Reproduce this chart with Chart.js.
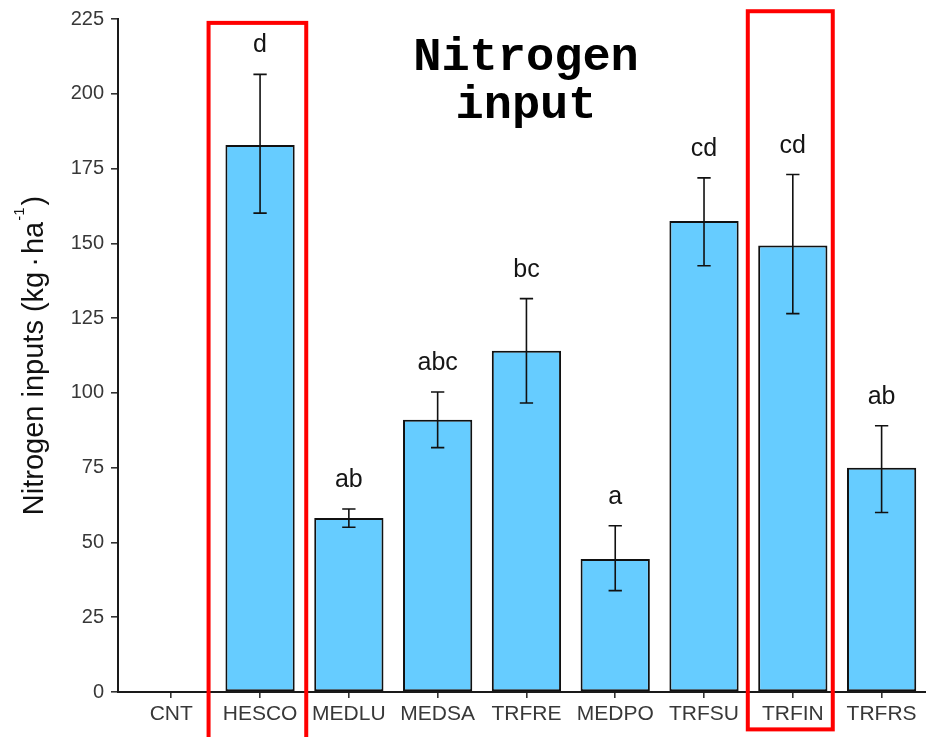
<!DOCTYPE html>
<html>
<head>
<meta charset="utf-8">
<script src="https://cdn.jsdelivr.net/npm/chart.js@4.4.1/dist/chart.umd.min.js"></script>
<style>
    html, body { margin: 0; padding: 0; background: #ffffff; }
    canvas { display: block; }
</style>
</head>
<body>
<canvas id="chartNitrogen" width="926" height="737"></canvas>
<script>
// values (kg N / ha)
const treatments = ['CNT', 'HESCO', 'MEDLU', 'MEDSA', 'TRFRE', 'MEDPO', 'TRFSU', 'TRFIN', 'TRFRS'];
const nitrogenMean = [0, 182.9, 58.2, 91.0, 114.1, 44.5, 157.5, 149.3, 75.0];
const errLower = [null, 160.1, 55.1, 81.7, 96.6, 33.9, 142.5, 126.5, 60.0];
const errUpper = [null, 206.5, 61.2, 100.3, 131.5, 55.6, 171.9, 173.0, 89.0];
const groupLetters = ['', 'd', 'ab', 'abc', 'bc', 'a', 'cd', 'cd', 'ab'];
const yTicks = [0, 25, 50, 75, 100, 125, 150, 175, 200, 225];
const highlighted = ['HESCO', 'TRFIN'];

const textColor = '#383838';

// error bars + significance letters
const errorBarPlugin = {
    id: 'errorBars',
    afterDatasetsDraw(chart) {
        const { ctx, scales: { x, y } } = chart;
        const capHalf = 0.075;
        ctx.save();
        ctx.strokeStyle = '#111111';
        ctx.lineWidth = 1.6;
        treatments.forEach((t, i) => {
            if (errUpper[i] == null) return;
            const cx = x.getPixelForValue(i);
            const c0 = x.getPixelForValue(i - capHalf);
            const c1 = x.getPixelForValue(i + capHalf);
            const yHi = y.getPixelForValue(errUpper[i]);
            const yLo = y.getPixelForValue(errLower[i]);
            ctx.beginPath();
            ctx.moveTo(cx, yHi); ctx.lineTo(cx, yLo);
            ctx.moveTo(c0, yHi); ctx.lineTo(c1, yHi);
            ctx.moveTo(c0, yLo); ctx.lineTo(c1, yLo);
            ctx.stroke();
        });
        ctx.fillStyle = '#151515';
        ctx.font = '25px "Liberation Sans", Arial, sans-serif';
        ctx.textAlign = 'center';
        ctx.textBaseline = 'alphabetic';
        treatments.forEach((t, i) => {
            if (!groupLetters[i]) return;
            ctx.fillText(groupLetters[i], x.getPixelForValue(i), y.getPixelForValue(errUpper[i]) - 22);
        });
        ctx.restore();
    }
};

// y title, plot title and the red boxes
const decorPlugin = {
    id: 'decor',
    afterDraw(chart) {
        const { ctx, chartArea, scales: { x, y } } = chart;
        ctx.save();

        // y axis title with superscript
        const midY = (chartArea.top + chartArea.bottom) / 2;
        const big = '29px "Liberation Sans", Arial, sans-serif';
        const small = '15px "Liberation Sans", Arial, sans-serif';
        const parts = [
            { s: 'Nitrogen inputs (kg', f: big, gap: 5 },
            { s: '\u00B7', f: big, gap: 3 },
            { s: 'ha', f: big, gap: 1 },
            { s: '-1', f: small, gap: 2, up: 19 },
            { s: ')', f: big, gap: 0 }
        ];
        let total = 0;
        parts.forEach(p => { ctx.font = p.f; p.w = ctx.measureText(p.s).width; total += p.w + p.gap; });
        ctx.translate(43, midY);
        ctx.rotate(-Math.PI / 2);
        ctx.fillStyle = '#111111';
        ctx.textBaseline = 'alphabetic';
        ctx.textAlign = 'left';
        let pos = -total / 2;
        parts.forEach(p => {
            ctx.font = p.f;
            ctx.fillText(p.s, pos, -(p.up || 0));
            pos += p.w + p.gap;
        });
        ctx.setTransform(1, 0, 0, 1, 0, 0);

        // title inside the plot
        ctx.fillStyle = '#000000';
        ctx.font = 'bold 47px "Liberation Mono", "Courier New", monospace';
        ctx.textAlign = 'center';
        ctx.fillText('Nitrogen', 526, 70);
        ctx.fillText('input', 526, 118);

        // highlight boxes
        const boxes = {
            HESCO: { l: -0.58, r: 0.52, top: 223.7, bottom: -20 },
            TRFIN: { l: -0.507, r: 0.45, top: 227.6, bottom: -12.5 }
        };
        ctx.strokeStyle = '#FF0000';
        ctx.lineWidth = 4;
        highlighted.forEach(name => {
            const i = treatments.indexOf(name);
            const b = boxes[name];
            const x0 = x.getPixelForValue(i + b.l);
            const x1 = x.getPixelForValue(i + b.r);
            const y0 = y.getPixelForValue(b.top);
            const y1 = y.getPixelForValue(b.bottom);
            ctx.strokeRect(x0, y0, x1 - x0, y1 - y0);
        });
        ctx.restore();
    }
};

const ctx = document.getElementById('chartNitrogen').getContext('2d');
new Chart(ctx, {
    type: 'bar',
    data: {
        datasets: [{
            data: treatments.map((t, i) => ({ x: i, y: nitrogenMean[i] })),
            backgroundColor: '#66CCFF',
            borderColor: '#111111',
            borderWidth: 2,
            borderSkipped: false,
            barPercentage: 0.78,
            categoryPercentage: 1
        }]
    },
    options: {
        responsive: false,
        animation: false,
        layout: {
            padding: { top: 19, right: 0, bottom: 0, left: 0 }
        },
        plugins: {
            legend: { display: false },
            tooltip: { enabled: false }
        },
        scales: {
            x: {
                type: 'linear',
                min: -0.6,
                max: 8.5,
                offset: false,
                afterBuildTicks: s => { s.ticks = treatments.map((t, i) => ({ value: i })); },
                afterFit: s => { s.height = 45; },
                ticks: {
                    autoSkip: false,
                    maxRotation: 0,
                    padding: 4,
                    color: textColor,
                    font: { family: '"Liberation Sans", Arial, sans-serif', size: 21 },
                    callback: v => treatments[v]
                },
                grid: { offset: false, drawOnChartArea: false, tickLength: 6, color: '#333333', lineWidth: 1.6 },
                border: { color: '#1a1a1a', width: 2 }
            },
            y: {
                min: 0,
                max: 225,
                afterBuildTicks: s => { s.ticks = yTicks.map(v => ({ value: v })); },
                afterFit: s => { s.width = 118; },
                ticks: {
                    padding: 7,
                    color: textColor,
                    font: { family: '"Liberation Sans", Arial, sans-serif', size: 20 }
                },
                grid: { drawOnChartArea: false, tickLength: 7, color: '#333333', lineWidth: 1.6 },
                border: { color: '#1a1a1a', width: 2 }
            }
        }
    },
    plugins: [errorBarPlugin, decorPlugin]
});
</script>
</body>
</html>
